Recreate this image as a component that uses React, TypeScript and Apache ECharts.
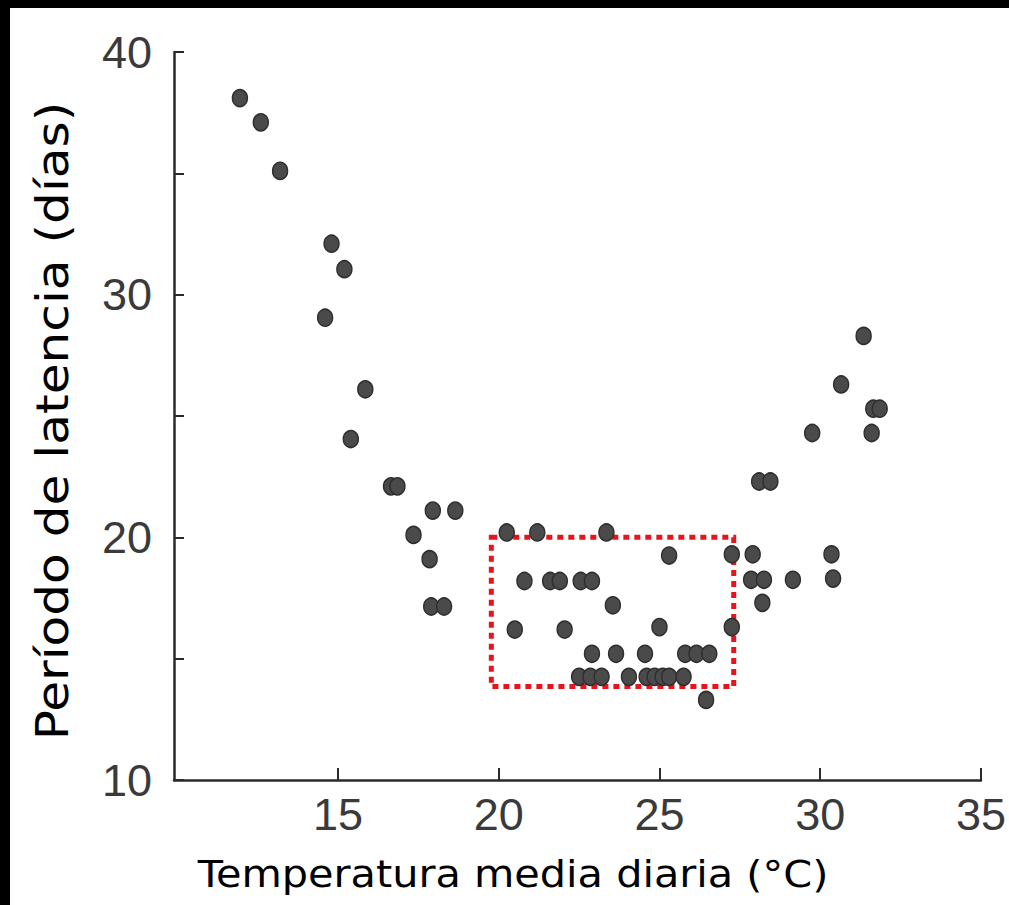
import React, { useEffect, useRef } from 'react';
import * as echarts from 'echarts';

// Temperatura media diaria (°C)
const temperature = [
  11.95, 12.6, 13.2, 14.8, 15.2, 14.6, 15.85, 15.4, 16.65, 16.85,
  17.95, 18.65, 17.35, 17.85, 17.9, 18.3,
  20.25, 21.2, 23.35, 25.3, 27.25, 27.9,
  20.8, 21.6, 21.9, 22.55, 22.9, 23.55,
  20.5, 22.05, 25.0, 27.25,
  22.9, 23.65, 24.55, 25.8, 26.15, 26.55,
  22.5, 22.85, 23.2, 24.05, 24.6, 24.85, 25.1, 25.3, 25.75, 26.45,
  31.35, 30.65, 31.65, 31.85, 31.6, 29.75, 28.1, 28.45,
  30.35, 27.85, 28.25, 29.15, 30.4, 28.2,
];
// Período de latencia (días)
const latency = [
  38.1, 37.1, 35.1, 32.1, 31.05, 29.05, 26.1, 24.05, 22.1, 22.1,
  21.1, 21.1, 20.1, 19.1, 17.15, 17.15,
  20.2, 20.2, 20.2, 19.25, 19.3, 19.3,
  18.2, 18.2, 18.2, 18.2, 18.2, 17.2,
  16.2, 16.2, 16.3, 16.3,
  15.2, 15.2, 15.2, 15.2, 15.2, 15.2,
  14.25, 14.25, 14.25, 14.25, 14.25, 14.25, 14.25, 14.25, 14.25, 13.3,
  28.3, 26.3, 25.3, 25.3, 24.3, 24.3, 22.3, 22.3,
  19.3, 18.25, 18.25, 18.25, 18.3, 17.3,
];

const xRange = [9.9, 35];
const yRange = [10, 40];
const xTickValues = [15, 20, 25, 30, 35];
const yLabelsShown = [10, 20, 30, 40];
// highlighted region (temperature from/to, latency from/to)
const boxTemp = [19.77, 27.31];
const boxDays = [20.0, 13.85];

const xTitle = 'Temperatura media diaria (°C)';
const yTitle = 'Período de latencia (días)';

const tickFont = '"Liberation Sans", Arial, sans-serif';

export default function App() {
  const ref = useRef<HTMLDivElement>(null);
  useEffect(() => {
    if (!ref.current) return;
    const chart = echarts.init(ref.current, undefined, { renderer: 'svg' });
    const points = temperature.map((t, i) => [t, latency[i]]);
    chart.setOption({
      animation: false,
      backgroundColor: '#ffffff',
      grid: { left: 164, top: 44, width: 812, height: 728, containLabel: false },
      xAxis: {
        type: 'value',
        min: xRange[0],
        max: xRange[1],
        splitLine: { show: false },
        axisLine: { lineStyle: { color: '#2a2a2a', width: 2.5 } },
        axisTick: {
          inside: true,
          length: 12,
          customValues: xTickValues,
          lineStyle: { color: '#2a2a2a', width: 2 },
        },
        axisLabel: {
          margin: 12,
          color: '#3a3a3a',
          fontFamily: tickFont,
          fontSize: 45,
          customValues: xTickValues,
        },
      },
      yAxis: {
        type: 'value',
        min: yRange[0],
        max: yRange[1],
        interval: 5,
        splitLine: { show: false },
        axisLine: { lineStyle: { color: '#2a2a2a', width: 2.5 } },
        axisTick: { inside: true, length: 10, lineStyle: { color: '#2a2a2a', width: 2 } },
        axisLabel: {
          margin: 22,
          color: '#3a3a3a',
          fontFamily: tickFont,
          fontSize: 45,
          formatter: (v: number) => (yLabelsShown.includes(v) ? String(v) : ''),
        },
      },
      graphic: [
        {
          type: 'text',
          x: 513 - 10,
          y: 874 - 8,
          scaleX: 1.09,
          style: {
            text: xTitle,
            fill: '#000',
            font: '38px "DejaVu Sans"',
            textAlign: 'center',
            textVerticalAlign: 'middle',
          },
        },
        {
          type: 'text',
          x: 53 - 10,
          y: 421 - 8,
          rotation: Math.PI / 2,
          scaleX: 1.14,
          style: {
            text: yTitle,
            fill: '#000',
            font: '44px "DejaVu Sans"',
            textAlign: 'center',
            textVerticalAlign: 'middle',
          },
        },
      ],
      series: [
        {
          type: 'scatter',
          data: points,
          symbol: 'circle',
          symbolSize: [15, 17],
          itemStyle: { color: '#4a4a4a', borderColor: '#2e2e2e', borderWidth: 1.5, opacity: 1 },
          markArea: {
            silent: true,
            itemStyle: {
              color: 'rgba(0,0,0,0)',
              borderColor: '#e8141b',
              borderWidth: 5,
              borderType: [6, 5],
            },
            data: [[{ coord: [boxTemp[0], boxDays[0]] }, { coord: [boxTemp[1], boxDays[1]] }]],
          },
        },
      ],
    });
    return () => chart.dispose();
  }, []);
  return (
    <div style={{ position: 'fixed', left: 0, top: 0, width: 1009, height: 905, background: '#000' }}>
      <div ref={ref} style={{ position: 'absolute', left: 10, top: 8, width: 999, height: 897 }} />
    </div>
  );
}
